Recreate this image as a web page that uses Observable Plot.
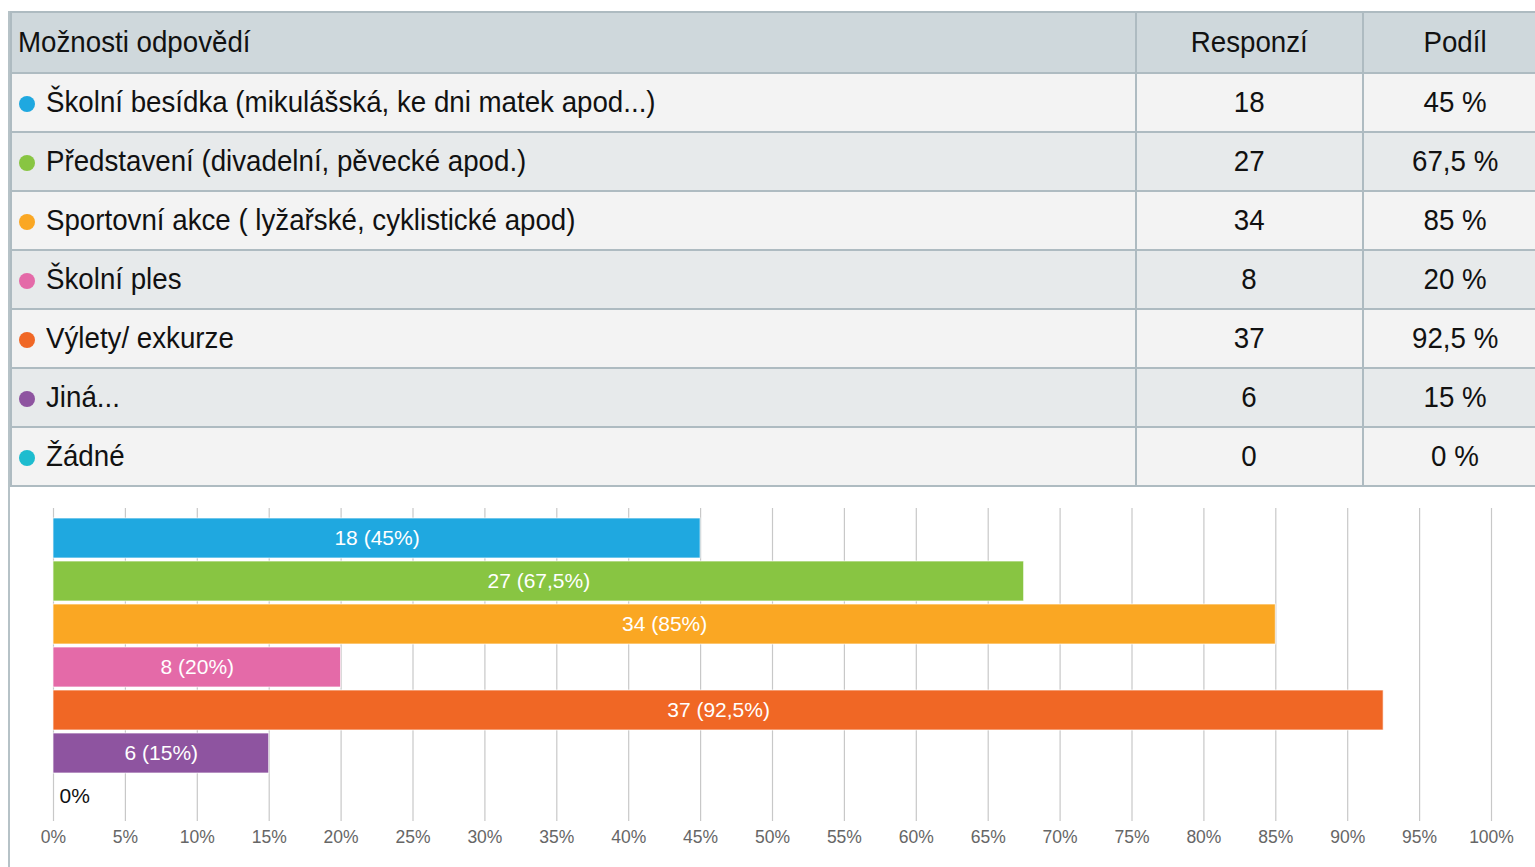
<!DOCTYPE html>
<html>
<head>
<meta charset="utf-8">
<script src="https://cdn.jsdelivr.net/npm/d3@7"></script>
<script src="https://cdn.jsdelivr.net/npm/@observablehq/plot@0.6"></script>
<style>
  html, body { margin: 0; padding: 0; background: #fff; overflow: hidden; width: 1535px; height: 867px; }
  #wrap { position: absolute; left: 8px; top: 11px; width: 1540px; height: 870px; border-left: 2px solid #b6c2c7; }
  table { border-collapse: collapse; width: 1536px; font-family: "Liberation Sans", Arial, sans-serif; font-size: 29px; color: #111; table-layout: fixed; }
  td, th { border: 2px solid #aebbc1; height: 57px; padding: 0; font-weight: normal; white-space: nowrap; overflow: hidden; }
  th { background: #cfd8dc; height: 59px; }
  th.first { text-align: left; padding-left: 6px; }
  td.first { text-align: left; padding-left: 7px; }
  td.num, th.num { text-align: center; }
  tr.odd td { background: #f3f3f3; }
  tr.even td { background: #e7eaeb; }
  .dot { display: inline-block; width: 16px; height: 16px; border-radius: 50%; margin-right: 11px; vertical-align: 0px; }
  .t { display: inline-block; transform: scaleX(0.955); }
  .first .t { transform-origin: left center; }
  .num .t { transform-origin: center center; }
  #chart { position: absolute; left: 0; top: 473px; }
</style>
</head>
<body>
<div id="wrap">
  <table id="tbl"></table>
  <div id="chart"></div>
</div>
<script>
const headers = ["Možnosti odpovědí", "Responzí", "Podíl"];
const categories = [
  "Školní besídka (mikulášská, ke dni matek apod...)",
  "Představení (divadelní, pěvecké apod.)",
  "Sportovní akce ( lyžařské, cyklistické apod)",
  "Školní ples",
  "Výlety/ exkurze",
  "Jiná...",
  "Žádné"
];
const counts = [18, 27, 34, 8, 37, 6, 0];
const shares = [45, 67.5, 85, 20, 92.5, 15, 0];
const colors = ["#1fa8e0", "#88c542", "#faa723", "#e46aa8", "#f06725", "#8e54a0", "#1dbccf"];
const xTicks = [0, 5, 10, 15, 20, 25, 30, 35, 40, 45, 50, 55, 60, 65, 70, 75, 80, 85, 90, 95, 100];

const fmt = v => String(v).replace(".", ",");
const data = categories.map((c, i) => ({
  category: c, count: counts[i], share: shares[i], color: colors[i],
  label: shares[i] === 0 ? "0%" : `${counts[i]} (${fmt(shares[i])}%)`
}));

function span(text) { const s = document.createElement("span"); s.className = "t"; s.textContent = text; return s; }

// table
const tbl = document.getElementById("tbl");
const colgroup = document.createElement("colgroup");
[1125, 227, 184].forEach(w => { const c = document.createElement("col"); c.style.width = w + "px"; colgroup.appendChild(c); });
tbl.appendChild(colgroup);
const hr = document.createElement("tr");
headers.forEach((h, i) => {
  const th = document.createElement("th");
  th.className = i === 0 ? "first" : "num";
  th.appendChild(span(h));
  hr.appendChild(th);
});
tbl.appendChild(hr);
data.forEach((d, i) => {
  const tr = document.createElement("tr");
  tr.className = i % 2 === 0 ? "odd" : "even";
  const td1 = document.createElement("td");
  td1.className = "first";
  const dot = document.createElement("span");
  dot.className = "dot";
  dot.style.background = d.color;
  td1.appendChild(dot);
  td1.appendChild(span(d.category));
  const td2 = document.createElement("td"); td2.className = "num"; td2.appendChild(span(String(d.count)));
  const td3 = document.createElement("td"); td3.className = "num"; td3.appendChild(span(fmt(d.share) + " %"));
  tr.append(td1, td2, td3);
  tbl.appendChild(tr);
});

// chart
const chart = Plot.plot({
  width: 1523,
  height: 382,
  marginLeft: 43,
  marginRight: 42,
  marginTop: 28,
  marginBottom: 45,
  style: { fontFamily: "Liberation Sans, Arial, sans-serif", background: "transparent" },
  x: { domain: [0, 100], ticks: xTicks, tickFormat: d => d + "%" },
  y: { domain: categories, padding: 0.08, axis: null },
  color: { domain: categories, range: colors },
  marks: [
    Plot.ruleX(xTicks, { stroke: "#c8c8c8", strokeWidth: 1.2, insetTop: -4 }),
    Plot.barX(data, { x: "share", y: "category", fill: "category", stroke: "#ffffff", strokeOpacity: 0.7, strokeWidth: 1 }),
    Plot.text(data.filter(d => d.share > 0), { x: d => d.share / 2, y: "category", text: "label", fill: "white", fontSize: 21 }),
    Plot.text(data.filter(d => d.share === 0), { x: 0, y: "category", text: "label", fill: "#111", fontSize: 21, textAnchor: "start", dx: 6 }),
    Plot.axisX({ ticks: xTicks, tickFormat: d => d + "%", tickSize: 0, tickPadding: 9, fontSize: 17.5, color: "#666", label: null })
  ]
});
document.getElementById("chart").appendChild(chart);
</script>
</body>
</html>
